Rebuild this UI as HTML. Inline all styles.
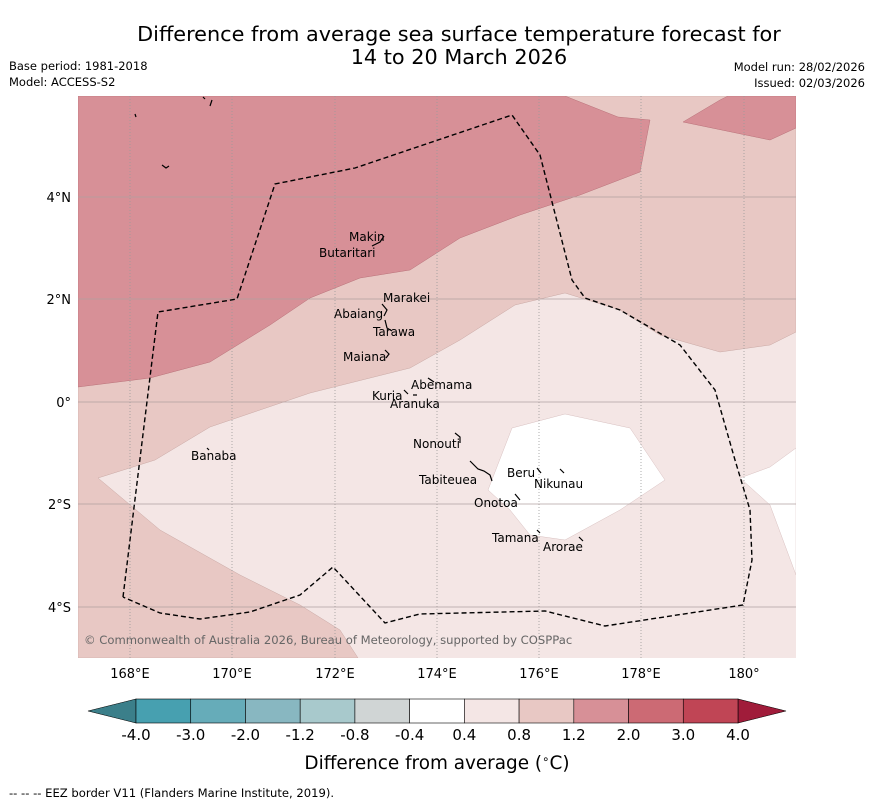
<!DOCTYPE html>
<html><head><meta charset="utf-8"><style>
body{margin:0;background:#fff;font-family:"Liberation Sans","DejaVu Sans",sans-serif;}
svg text{font-family:"DejaVu Sans","Liberation Sans",sans-serif;}
</style></head><body>
<svg width="873" height="804" viewBox="0 0 873 804">
<text x="459" y="41" font-size="20.8" text-anchor="middle">Difference from average sea surface temperature forecast for</text>
<text x="459" y="64" font-size="20.8" text-anchor="middle">14 to 20 March 2026</text>
<text x="9" y="70" font-size="11.5">Base period: 1981-2018</text>
<text x="9" y="86" font-size="11.5">Model: ACCESS-S2</text>
<text x="865" y="71" font-size="11.5" text-anchor="end">Model run: 28/02/2026</text>
<text x="865" y="87" font-size="11.5" text-anchor="end">Issued: 02/03/2026</text>
<defs><clipPath id="mc"><rect x="78" y="96" width="718" height="562"/></clipPath></defs>
<g clip-path="url(#mc)">
<rect x="78" y="96" width="718" height="562" fill="#f4e6e5"/>
<polygon fill="#e8c8c4" stroke="#c9a8a4" stroke-width="0.5" points="78,96 796,96 796,332 770,345 720,352 660,335 620,310 565,293 515,305 460,340 410,368 310,393 210,427 155,460 98,478 160,530 240,575 300,605 340,630 358,658 78,658"/>
<polygon fill="#d79097" stroke="#b87078" stroke-width="0.5" points="78,96 565,96 618,117 650,120 640,172 580,195 520,215 460,238 410,270 360,278 310,298 270,325 210,362 150,378 78,387"/>
<polygon fill="#d79097" stroke="#b87078" stroke-width="0.5" points="683,122 720,100 728,96 796,96 796,128 770,140"/>
<polygon fill="#fff" stroke="#d8c0c0" stroke-width="0.5" points="512,428 565,414 630,428 665,480 620,510 565,540 530,535 510,510 488,490"/>
<polygon fill="#fff" stroke="#d8c0c0" stroke-width="0.5" points="796,448 770,467 740,478 770,505 796,575"/>
<g stroke="#999" stroke-width="0.8" stroke-dasharray="1,2">
<line x1="130" y1="96" x2="130" y2="658"/><line x1="232" y1="96" x2="232" y2="658"/><line x1="335" y1="96" x2="335" y2="658"/><line x1="437" y1="96" x2="437" y2="658"/><line x1="539" y1="96" x2="539" y2="658"/><line x1="641" y1="96" x2="641" y2="658"/><line x1="744" y1="96" x2="744" y2="658"/>
</g>
<g stroke="#b0a0a0" stroke-width="0.8">
<line x1="78" y1="197" x2="796" y2="197"/><line x1="78" y1="299" x2="796" y2="299"/><line x1="78" y1="402" x2="796" y2="402"/><line x1="78" y1="504" x2="796" y2="504"/><line x1="78" y1="607" x2="796" y2="607"/>
</g>
<polyline fill="none" stroke="#000" stroke-width="1.4" stroke-dasharray="5,3" points="123,597 158,312 237,299 275,184 355,168 512,115 540,155 572,280 585,298 620,310 680,345 715,390 735,460 750,510 752,560 743,605 605,626 545,611 420,614 385,623 333,567 300,595 250,612 200,619 160,613 123,597"/>
<g fill="none" stroke="#000" stroke-width="1.2">
<path d="M372,246 l8,-4 l4,-6"/><path d="M382,304 l5,6 l-3,6"/><path d="M385,320 l2,8 l5,3"/><path d="M385,350 l4,4 l-3,4"/><path d="M428,378 l6,4"/><path d="M404,390 l4,4 M413,395 l4,0"/><path d="M455,433 l5,4 l0,6"/><path d="M470,461 l8,8 l6,2 l6,4 l2,6"/><path d="M537,468 l4,5"/><path d="M560,469 l4,4"/><path d="M515,494 l5,6"/><path d="M537,530 l3,3"/><path d="M579,537 l4,4"/><path d="M207,448 l2,2"/><path d="M135,114 l1,3"/><path d="M162,165 l4,3 l3,-2"/><path d="M203,97 l2,2 M212,100 l-2,6"/>
</g>
<g font-size="12">
<text x="349" y="241">Makin</text><text x="319" y="257">Butaritari</text><text x="383" y="302">Marakei</text><text x="334" y="318">Abaiang</text><text x="373" y="336">Tarawa</text><text x="343" y="361">Maiana</text><text x="411" y="389">Abemama</text><text x="372" y="400">Kuria</text><text x="390" y="408">Aranuka</text><text x="413" y="448">Nonouti</text><text x="191" y="460">Banaba</text><text x="507" y="477">Beru</text><text x="534" y="488">Nikunau</text><text x="419" y="484">Tabiteuea</text><text x="474" y="507">Onotoa</text><text x="492" y="542">Tamana</text><text x="543" y="551">Arorae</text>
</g>
<text x="84" y="644" font-size="11.6" fill="#666">© Commonwealth of Australia 2026, Bureau of Meteorology, supported by COSPPac</text>
</g>
<g font-size="13" text-anchor="middle">
<text x="130" y="678">168°E</text><text x="232" y="678">170°E</text><text x="335" y="678">172°E</text><text x="437" y="678">174°E</text><text x="539" y="678">176°E</text><text x="641" y="678">178°E</text><text x="744" y="678">180°</text>
</g>
<g font-size="13" text-anchor="end">
<text x="71" y="202">4°N</text><text x="71" y="304">2°N</text><text x="71" y="407">0°</text><text x="71" y="509">2°S</text><text x="71" y="612">4°S</text>
</g>
<g id="cb"></g>
<text x="437" y="769" font-size="18.4" text-anchor="middle">Difference from average (<tspan font-size="12" dy="-6">∘</tspan><tspan dy="6">C)</tspan></text>
<text x="9" y="797" font-size="11.6">--  --  -- EEZ border V11 (Flanders Marine Institute, 2019).</text>
</svg>
<script>
const levels=["-4.0","-3.0","-2.0","-1.2","-0.8","-0.4","0.4","0.8","1.2","2.0","3.0","4.0"];
const colors=["#47a0b0","#66acb9","#88b7c1","#a8c9cc","#d0d5d5","#ffffff","#f4e6e5","#e8c8c4","#d79097","#cc6a74","#c04555"];
const ns="http://www.w3.org/2000/svg",cb=document.getElementById('cb');
const x0=136,x1=738,y=699,h=24,w=(x1-x0)/colors.length;
function mk(t,a){const e=document.createElementNS(ns,t);for(const k in a)e.setAttribute(k,a[k]);cb.appendChild(e);return e;}
const lt=mk('polygon',{points:`88,711 ${x0},${y} ${x0},${y+h}`,fill:'#3b7f8a',stroke:'#000','stroke-width':0.6});


const rt=mk('polygon',{points:`786,711 ${x1},${y} ${x1},${y+h}`,fill:'#a01c3a',stroke:'#000','stroke-width':0.6});


colors.forEach((c,i)=>{
const r=mk('rect',{x:x0+i*w,y:y,width:w,height:h,fill:c,stroke:'#000','stroke-width':0.6});


});
levels.forEach((l,i)=>{
const t=mk('text',{x:x0+i*w,y:740,'font-size':15,'text-anchor':'middle'});
t.textContent=l;


});
</script>
</body></html>
